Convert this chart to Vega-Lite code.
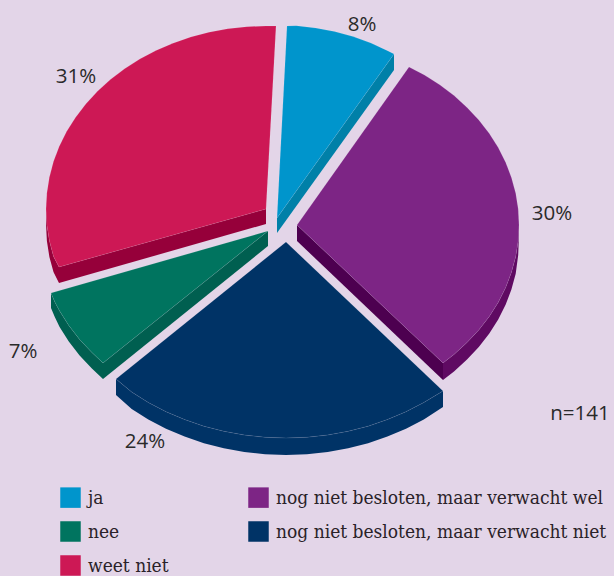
{
"$schema":"https://vega.github.io/schema/vega-lite/v6.json",
"width":614,"height":576,"autosize":"none","padding":0,
"background":"#e3d5e8",
"config":{"view":{"stroke":null}},
"projection":{"type":"identity","scale":1,"translate":[0,0]},
"resolve":{"scale":{"color":"independent"}},
"layer":[
{"data":{"values":[
{"deel":"ja recht","type":"Feature","geometry":{"type":"Polygon","coordinates":[[[277,218],[277,233],[394,70],[394,54],[277,218]]]}},
{"deel":"wel recht","type":"Feature","geometry":{"type":"Polygon","coordinates":[[[297,225],[297,241],[443,380],[443,363],[297,225]]]}},
{"deel":"wel rond","type":"Feature","geometry":{"type":"Polygon","coordinates":[[[519,225],[518.2,240.9],[515.7,256.8],[511.4,272.4],[505.7,287.6],[498.2,302.4],[489.3,316.5],[478.8,330],[467,342.6],[454,354.4],[443,363],[443,380],[454,371.4],[467,359.6],[478.8,347],[489.3,333.5],[498.2,319.4],[505.7,304.6],[511.4,289.4],[515.7,273.8],[518.2,255],[519,235],[519,225]]]}},
{"deel":"niet rond","type":"Feature","geometry":{"type":"Polygon","coordinates":[[[443,391],[423.8,402.5],[406,411.7],[387.4,419.6],[368.1,426.2],[348.2,431.3],[327.7,435],[306.9,437.3],[286,438],[265.1,437.3],[244.3,435],[223.8,431.3],[203.9,426.2],[184.6,419.6],[166,411.7],[148.3,402.5],[131.7,392.1],[116,379],[116,395],[131.7,409.1],[148.3,419.5],[166,428.7],[184.6,436.6],[203.9,443.2],[223.8,448.3],[244.3,452],[265.1,454.3],[286,455],[306.9,454.3],[327.7,452],[348.2,448.3],[368.1,443.2],[387.4,436.6],[406,428.7],[423.8,419.5],[443,407],[443,391]]]}},
{"deel":"nee recht","type":"Feature","geometry":{"type":"Polygon","coordinates":[[[268,231],[268,246],[103,379],[103,363],[268,231]]]}},
{"deel":"nee rond","type":"Feature","geometry":{"type":"Polygon","coordinates":[[[51,293],[54.8,301.9],[59.6,310.9],[68.8,325.5],[79.6,339.5],[91.9,352.5],[103,363],[103,379],[91.9,368.5],[79.6,355.5],[68.8,341.5],[59.6,326.9],[54.8,317],[51,308],[51,293]]]}},
{"deel":"weet recht","type":"Feature","geometry":{"type":"Polygon","coordinates":[[[266,209],[266,224],[59,283],[59,267],[266,209]]]}},
{"deel":"weet rond","type":"Feature","geometry":{"type":"Polygon","coordinates":[[[46,209],[46.9,224.9],[49.4,240.8],[53.5,256.4],[59,267],[59,283],[53.5,272],[49.4,257],[46.9,241],[46,224],[46,209]]]}}
]},
"mark":{"type":"geoshape"},
"encoding":{"color":{"field":"deel","type":"nominal","legend":null,
"scale":{"domain":["ja recht","wel recht","wel rond","niet rond","nee recht","nee rond","weet recht","weet rond"],
"range":["#0080a8","#4d0050","#5f0a62","#003366","#005f50","#005f50","#96003a","#96003a"]}}}},
{"data":{"values":[
{"antwoord":"ja","pct":8,"type":"Feature","geometry":{"type":"Polygon","coordinates":[[[277,218],[287,26],[296.3,25.7],[315.6,28],[334.5,31.6],[353,36.6],[370.9,43.1],[388,50.9],[394,54],[277,218]]]}},
{"antwoord":"nog niet besloten, maar verwacht wel","pct":30,"type":"Feature","geometry":{"type":"Polygon","coordinates":[[[297,225],[409,67],[424.4,75.1],[439.7,84.8],[454,95.6],[467,107.4],[478.8,120],[489.3,133.5],[498.2,147.6],[505.7,162.4],[511.4,177.6],[515.7,193.2],[518.2,209.1],[519,225],[518.2,240.9],[515.7,256.8],[511.4,272.4],[505.7,287.6],[498.2,302.4],[489.3,316.5],[478.8,330],[467,342.6],[454,354.4],[443,363],[297,225]]]}},
{"antwoord":"nog niet besloten, maar verwacht niet","pct":24,"type":"Feature","geometry":{"type":"Polygon","coordinates":[[[286,242],[443,391],[423.8,402.5],[406,411.7],[387.4,419.6],[368.1,426.2],[348.2,431.3],[327.7,435],[306.9,437.3],[286,438],[265.1,437.3],[244.3,435],[223.8,431.3],[203.9,426.2],[184.6,419.6],[166,411.7],[148.3,402.5],[131.7,392.1],[116,379],[286,242]]]}},
{"antwoord":"nee","pct":7,"type":"Feature","geometry":{"type":"Polygon","coordinates":[[[268,231],[103,363],[91.9,352.5],[79.6,339.5],[68.8,325.5],[59.6,310.9],[54.8,301.9],[51,293],[268,231]]]}},
{"antwoord":"weet niet","pct":31,"type":"Feature","geometry":{"type":"Polygon","coordinates":[[[266,209],[59,267],[53.5,256.4],[49.4,240.8],[46.9,224.9],[46,209],[46.9,193.1],[49.4,177.2],[53.5,161.6],[59.2,146.4],[66.6,131.6],[75.5,117.5],[85.8,104],[97.5,91.3],[110.4,79.6],[124.6,68.8],[139.8,59.1],[156,50.5],[173,43.2],[190.8,37],[209,32.2],[227.8,28.8],[246.8,26.7],[266,26],[276,26],[266,209]]]}}
]},
"mark":{"type":"geoshape","stroke":"#ffffff","strokeOpacity":0.12,"strokeWidth":0.8},
"encoding":{"color":{"field":"antwoord","type":"nominal",
"scale":{"domain":["ja","nee","weet niet","nog niet besloten, maar verwacht wel","nog niet besloten, maar verwacht niet"],
"range":["#0095cc","#00745f","#cd1855","#7d2585","#003366"]},
"legend":{"title":null,"orient":"none","legendX":60,"legendY":487,"columns":2,"padding":0,"symbolType":"square","symbolSize":420,"symbolStrokeWidth":0,"labelFont":"DejaVu Serif Condensed","labelFontSize":19,"labelColor":"#2a2228","labelOffset":7,"labelLimit":400,"rowPadding":13,"columnPadding":79,"gridAlign":"each"}}}},
{"data":{"values":[
{"tekst":"8%","lon":362,"lat":25},
{"tekst":"30%","lon":552,"lat":214},
{"tekst":"24%","lon":145,"lat":442},
{"tekst":"7%","lon":23,"lat":352},
{"tekst":"31%","lon":76,"lat":77},
{"tekst":"n=141","lon":580,"lat":414}
]},
"mark":{"type":"text","font":"Open Sans","fontSize":20.5,"color":"#2a2a2a","align":"center","baseline":"middle"},
"encoding":{"longitude":{"field":"lon","type":"quantitative"},"latitude":{"field":"lat","type":"quantitative"},"text":{"field":"tekst","type":"nominal"}}}
]}
